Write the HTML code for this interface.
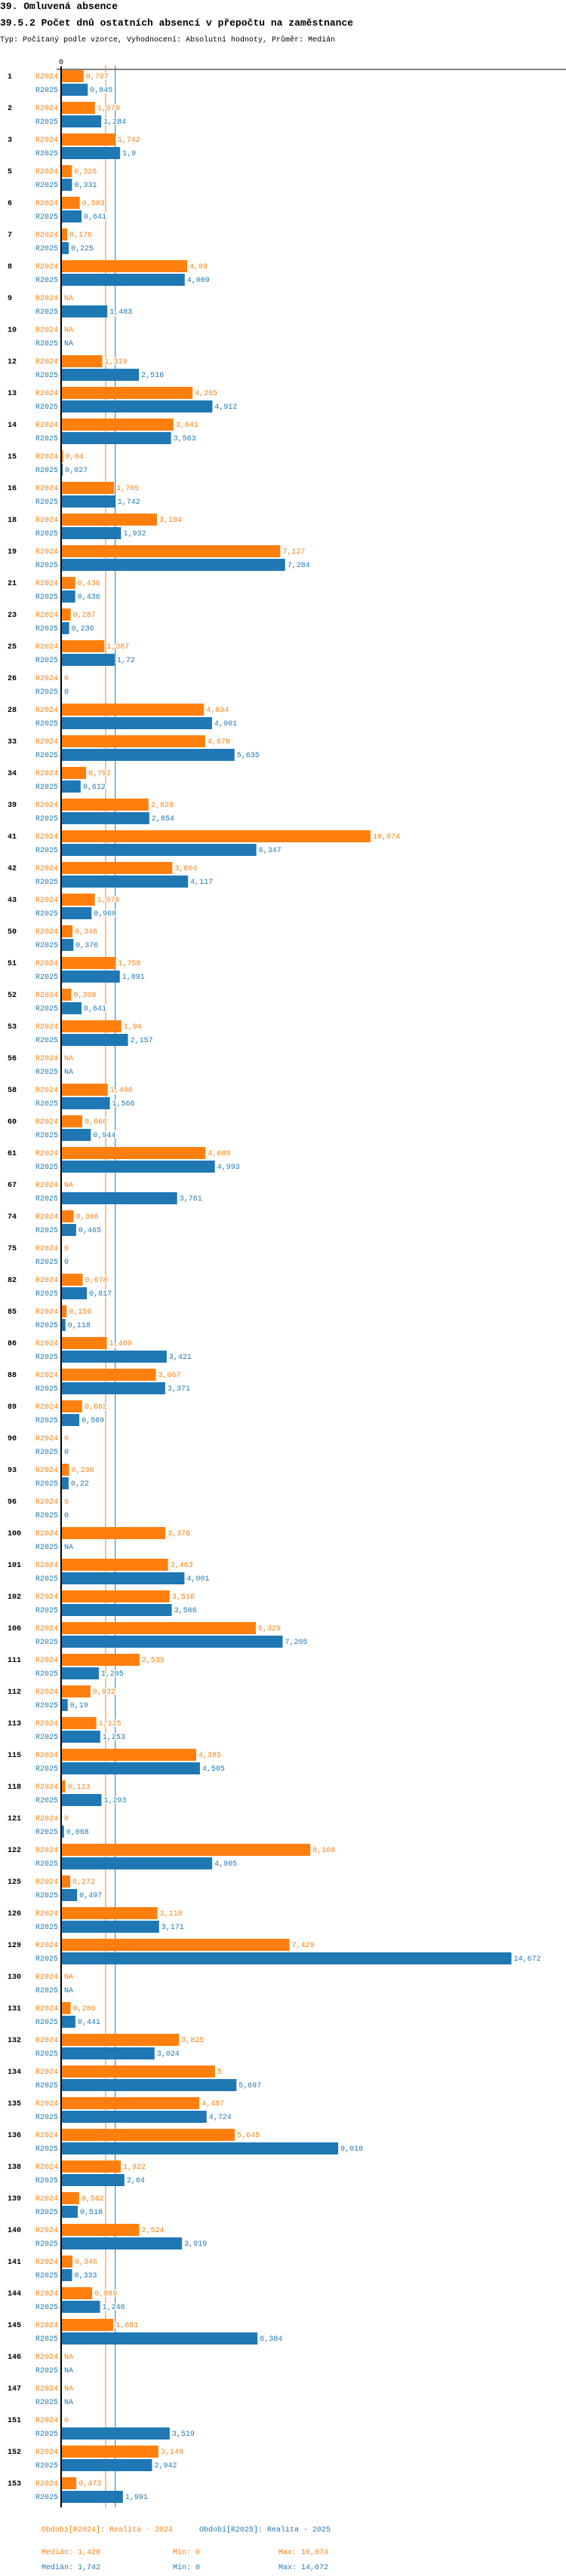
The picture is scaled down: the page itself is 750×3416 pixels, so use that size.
<!DOCTYPE html>
<html><head><meta charset="utf-8"><style>
html,body{margin:0;padding:0;background:#fff;width:750px;height:3416px;overflow:hidden}
svg{display:block}
text{font-family:"Liberation Mono",monospace}
</style></head><body>
<svg id="chart" width="750" height="3416" xmlns="http://www.w3.org/2000/svg">
<text x="0" y="12" font-size="13" font-weight="bold" fill="#000">39. Omluvená absence</text>
<text x="0" y="34" font-size="13" font-weight="bold" fill="#000">39.5.2 Počet dnů ostatních absencí v přepočtu na zaměstnance</text>
<text x="0" y="55" font-size="10" fill="#000">Typ: Počítaný podle vzorce, Vyhodnocení: Absolutní hodnoty, Průměr: Medián</text>
<g id="plot"></g>
</svg>
<script>
const categories=["1","2","3","5","6","7","8","9","10","12","13","14","15","16","18","19","21","23","25","26","28","33","34","39","41","42","43","50","51","52","53","56","58","60","61","67","74","75","82","85","86","88","89","90","93","96","100","101","102","106","111","112","113","115","118","121","122","125","126","129","130","131","132","134","135","136","138","139","140","141","144","145","146","147","151","152","153"];
const values2024=[0.707,1.079,1.742,0.326,0.583,0.176,4.09,null,null,1.319,4.265,3.641,0.04,1.705,3.104,7.127,0.436,0.287,1.387,0,4.634,4.678,0.792,2.828,10.074,3.604,1.076,0.346,1.758,0.308,1.94,null,1.496,0.666,4.689,null,0.386,0,0.678,0.156,1.469,3.067,0.662,0,0.236,0,3.376,3.463,3.516,6.329,2.535,0.932,1.125,4.385,0.113,0,8.108,0.272,3.118,7.429,null,0.286,3.825,5,4.487,5.645,1.922,0.562,2.524,0.346,0.989,1.681,null,null,0,3.149,0.473];
const values2025=[0.845,1.284,1.9,0.331,0.641,0.225,4.009,1.483,null,2.516,4.912,3.563,0.027,1.742,1.932,7.284,0.436,0.236,1.72,0,4.901,5.635,0.612,2.854,6.347,4.117,0.968,0.376,1.891,0.641,2.157,null,1.566,0.944,4.993,3.761,0.465,0,0.817,0.118,3.421,3.371,0.569,0,0.22,0,null,4.001,3.586,7.205,1.205,0.19,1.253,4.505,1.293,0.068,4.905,0.497,3.171,14.672,null,0.441,3.024,5.697,4.724,9.018,2.04,0.518,3.919,0.333,1.246,6.384,null,null,3.519,2.942,1.991];
const median2024=1.428, median2025=1.742;
const stats2024=["Medián: 1,428","Min: 0","Max: 10,074"];
const stats2025=["Medián: 1,742","Min: 0","Max: 14,672"];
const C24="#ff7f0e",C25="#1f77b4";
const X0=82,SCALE=40.6,TOP=93,PITCH=42;
const xs=v=>X0+v*SCALE;
const ys=i=>TOP+i*PITCH;
const NS="http://www.w3.org/2000/svg";
const g=document.getElementById('plot');
function mk(tag,attrs,txt){const e=document.createElementNS(NS,tag);for(const k in attrs)e.setAttribute(k,attrs[k]);if(txt!==undefined)e.textContent=txt;g.appendChild(e);return e;}
const fmt=v=>v===null?"NA":String(v).replace('.',',');
const bottom=ys(categories.length-1)+40;
// axis
let ax=mk('line',{x1:75,y1:92,x2:750,y2:92,stroke:'#000','stroke-width':1});


let z=mk('text',{x:X0-4,y:85,'font-size':10,fill:'#000'},'0');


// median lines
let m1=mk('line',{x1:xs(median2024),y1:87,x2:xs(median2024),y2:bottom,stroke:C24,'stroke-width':1});


let m2=mk('line',{x1:xs(median2025),y1:87,x2:xs(median2025),y2:bottom,stroke:C25,'stroke-width':1});


categories.forEach((c,i)=>{
  const y=ys(i);
  let t=mk('text',{x:10,y:y+11,'font-size':10,'font-weight':'bold',fill:'#000'},c);
  
  
  [[values2024[i],C24,'R2024',0],[values2025[i],C25,'R2025',18]].forEach(([v,col,lab,off])=>{
    const yy=y+off;
    let l=mk('text',{x:77,y:yy+11,'font-size':10,fill:col,'text-anchor':'end'},lab);
    
    
    let end=X0;
    if(v!==null&&v>0){
      let r=mk('rect',{x:X0,y:yy,width:v*SCALE,height:16,fill:col});
      
      
      end=xs(v);
    }
    let vt=mk('text',{x:end+3,y:yy+11,'font-size':10,fill:col,stroke:'#fff','stroke-width':3,'paint-order':'stroke'},fmt(v));
    
    
  });
});
let yax=mk('line',{x1:81,y1:88,x2:81,y2:bottom,stroke:'#000','stroke-width':2});


// legend
const ly=bottom+32;
let la=mk('text',{x:55,y:ly,'font-size':10,fill:C24},'Období[R2024]: Realita - 2024');


let lb=mk('text',{x:264,y:ly,'font-size':10,fill:C25},'Období[R2025]: Realita - 2025');


const sx=[55,229,369];
stats2024.forEach((s,k)=>{let e=mk('text',{x:sx[k],y:ly+30,'font-size':10,fill:C24},s);

});
stats2025.forEach((s,k)=>{let e=mk('text',{x:sx[k],y:ly+50,'font-size':10,fill:C25},s);

});
</script>
</body></html>
